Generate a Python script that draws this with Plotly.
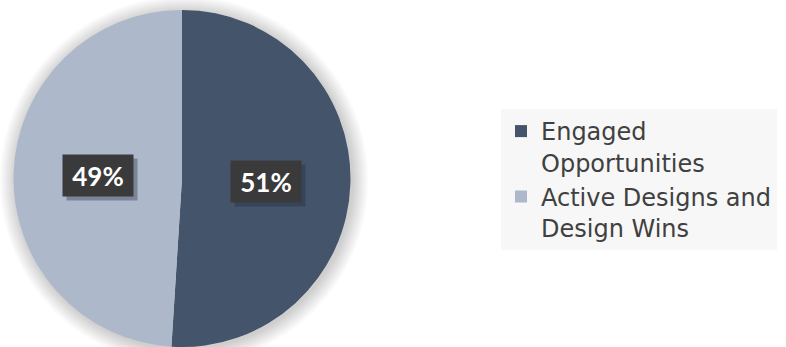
import math
import plotly.graph_objects as go

labels = ["Engaged<br>Opportunities", "Active Designs and<br>Design Wins"]
values = [51, 49]
colors = ["#44546a", "#adb9ca"]

W, H = 786, 347
# pie geometry in pixels
px0, px1 = 13, 351
py_top, py_bot = 10, 347
cx = (px0 + px1) / 2
R = min(px1 - px0, py_bot - py_top) / 2
cy = py_top + R

def xp(x):
    return x / W

def yp(y):
    return 1 - y / H

fig = go.Figure()
fig.add_trace(go.Pie(
    labels=labels,
    values=values,
    sort=False,
    direction="clockwise",
    rotation=0,
    marker=dict(colors=colors, line=dict(width=0)),
    textinfo="none",
    hoverinfo="label+percent",
    domain=dict(x=[xp(px0), xp(px1)], y=[yp(py_bot), yp(py_top)]),
))

shapes = []
# soft shadow around pie
for k in range(16, 0, -1):
    r = R + k
    shapes.append(dict(
        type="circle", xref="paper", yref="paper", layer="below",
        x0=xp(cx + 2 - r), x1=xp(cx + 2 + r),
        y0=yp(cy + 2 + r), y1=yp(cy + 2 - r),
        fillcolor="rgba(0,0,0,0.010)", line=dict(width=0),
    ))

annotations = []
total = sum(values)
start = 90.0
for v in values:
    sweep = v / total * 360
    mid = math.radians(start - sweep / 2)
    start -= sweep
    lx = cx + 0.5 * R * math.cos(mid)
    ly = cy - 0.5 * R * math.sin(mid)
    txt = f"{round(v / total * 100)}%"
    # shadow box
    annotations.append(dict(
        x=xp(lx + 4), y=yp(ly + 4), xref="paper", yref="paper",
        xanchor="center", yanchor="middle",
        text="", showarrow=False, width=70, height=41, borderpad=0,
        bgcolor="rgba(30,40,60,0.35)",
    ))
    annotations.append(dict(
        x=xp(lx), y=yp(ly), xref="paper", yref="paper",
        xanchor="center", yanchor="middle",
        text=f"<b>{txt}</b>", showarrow=False, width=70, height=41, borderpad=0,
        bgcolor="#3a3a3a", align="center", valign="middle",
        font=dict(family="Lato", size=26, color="#ffffff"),
    ))

fig.update_layout(
    width=W, height=H,
    margin=dict(l=0, r=0, t=0, b=0),
    paper_bgcolor="#ffffff",
    plot_bgcolor="#ffffff",
    showlegend=True,
    legend=dict(
        x=xp(501), y=yp(109), xanchor="left", yanchor="top",
        bgcolor="#f7f7f7",
        font=dict(family="DejaVu Sans", size=24, color="#404040"),
        valign="top",
        itemwidth=30,
    ),
    shapes=shapes,
    annotations=annotations,
)

fig.write_html("out.html")
